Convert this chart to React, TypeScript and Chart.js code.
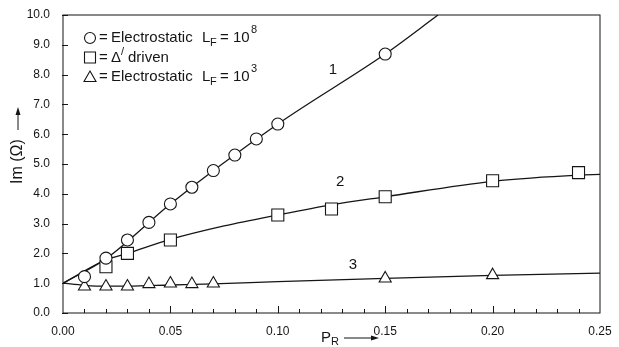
import React, { useEffect, useRef } from 'react';
import { Chart, registerables } from 'chart.js';

Chart.register(...registerables);

// ---- data ----
const circleX = [0.01, 0.02, 0.03, 0.04, 0.05, 0.06, 0.07, 0.08, 0.09, 0.10, 0.15];
const circleY = [1.22, 1.84, 2.45, 3.04, 3.66, 4.22, 4.78, 5.30, 5.84, 6.34, 8.69];
const squareX = [0.02, 0.03, 0.05, 0.10, 0.125, 0.15, 0.20, 0.24];
const squareY = [1.55, 2.0, 2.45, 3.29, 3.49, 3.90, 4.44, 4.71];
const triangleX = [0.01, 0.02, 0.03, 0.04, 0.05, 0.06, 0.07, 0.15, 0.20];
const triangleY = [0.89, 0.89, 0.89, 0.97, 0.99, 0.97, 0.99, 1.16, 1.27];

const curve1X = [0, 0.02, 0.05, 0.10, 0.15, 0.1746];
const curve1Y = [1.0, 1.82, 3.66, 6.34, 8.69, 10.0];
const curve2X = [0, 0.02, 0.03, 0.05, 0.075, 0.10, 0.125, 0.15, 0.20, 0.24, 0.25];
const curve2Y = [1.0, 1.78, 2.0, 2.47, 2.92, 3.29, 3.63, 3.90, 4.42, 4.63, 4.65];
const curve3X = [0, 0.01, 0.02, 0.03, 0.05, 0.07, 0.10, 0.15, 0.20, 0.25];
const curve3Y = [1.0, 0.93, 0.9, 0.9, 0.94, 0.98, 1.05, 1.16, 1.26, 1.34];

const curveLabels = ['1', '2', '3'];
const curveLabelX = [0.1257, 0.129, 0.135];
const curveLabelY = [8.15, 4.4, 1.61];

const xMin = 0, xMax = 0.25, xStep = 0.05, xMinorStep = 0.01;
const yMin = 0, yMax = 10, yStep = 1;

const legendRows = [
  { symbol: 'circle', text: 'Electrostatic', exp: '8' },
  { symbol: 'square', text: 'Δ', exp: null },
  { symbol: 'triangle', text: 'Electrostatic', exp: '3' },
];

const INK = '#151515';
const FONT = "'Liberation Sans', Arial, sans-serif";

const toPts = (xs: number[], ys: number[]) => xs.map((x, i) => ({ x, y: ys[i] }));

function drawSymbol(ctx: CanvasRenderingContext2D, kind: string, x: number, y: number) {
  ctx.beginPath();
  if (kind === 'circle') {
    ctx.arc(x, y, 5.5, 0, Math.PI * 2);
  } else if (kind === 'square') {
    ctx.rect(x - 5.5, y - 5.5, 11, 11);
  } else {
    ctx.moveTo(x, y - 6);
    ctx.lineTo(x + 6, y + 4.5);
    ctx.lineTo(x - 6, y + 4.5);
    ctx.closePath();
  }
  ctx.fillStyle = '#fff';
  ctx.fill();
  ctx.stroke();
}

function arrow(ctx: CanvasRenderingContext2D, x1: number, y: number, x2: number) {
  ctx.beginPath();
  ctx.moveTo(x1, y);
  ctx.lineTo(x2 - 6, y);
  ctx.stroke();
  ctx.beginPath();
  ctx.moveTo(x2, y);
  ctx.lineTo(x2 - 8, y - 2.5);
  ctx.lineTo(x2 - 8, y + 2.5);
  ctx.closePath();
  ctx.fill();
}

const decor = {
  id: 'decor',
  afterDraw(chart: any) {
    const { ctx, chartArea: a, scales } = chart;
    const xs = scales.x;
    const ys = scales.y;
    ctx.save();
    ctx.strokeStyle = INK;
    ctx.fillStyle = INK;
    ctx.lineWidth = 1;
    // frame
    ctx.strokeRect(a.left, a.top, a.right - a.left, a.bottom - a.top);
    // y ticks (inward)
    ys.ticks.forEach((t: any) => {
      const p = Math.round(ys.getPixelForValue(t.value)) + 0.5;
      ctx.beginPath();
      ctx.moveTo(a.left - 1, p);
      ctx.lineTo(a.left + 5, p);
      ctx.stroke();
    });
    // x ticks (inward), minor every 0.01
    const n = Math.round((xMax - xMin) / xMinorStep);
    for (let i = 1; i < n; i++) {
      const v = xMin + i * xMinorStep;
      const p = Math.round(xs.getPixelForValue(v)) + 0.5;
      const major = i % Math.round(xStep / xMinorStep) === 0;
      ctx.beginPath();
      ctx.moveTo(p, a.bottom);
      ctx.lineTo(p, a.bottom - (major ? 7 : 4));
      ctx.stroke();
    }

    // legend
    ctx.lineWidth = 1.1;
    ctx.textBaseline = 'middle';
    ctx.textAlign = 'left';
    legendRows.forEach((r, i) => {
      const cy = a.top + 23 + i * 19.5;
      const sx = a.left + 27;
      ctx.strokeStyle = INK;
      drawSymbol(ctx, r.symbol, sx, cy);
      ctx.fillStyle = INK;
      ctx.font = `15px ${FONT}`;
      ctx.fillText('=', a.left + 36, cy);
      if (r.symbol === 'square') {
        ctx.fillText('Δ', a.left + 48, cy);
        ctx.font = `11px ${FONT}`;
        ctx.fillText('/', a.left + 58, cy - 6);
        ctx.font = `15px ${FONT}`;
        ctx.fillText('driven', a.left + 65, cy);
      } else {
        ctx.fillText(r.text, a.left + 48, cy);
        ctx.fillText('L', a.left + 139, cy);
        ctx.font = `11px ${FONT}`;
        ctx.fillText('F', a.left + 147, cy + 5);
        ctx.font = `15px ${FONT}`;
        ctx.fillText('=', a.left + 157, cy);
        ctx.fillText('10', a.left + 170, cy);
        ctx.font = `11px ${FONT}`;
        ctx.fillText(r.exp as string, a.left + 188, cy - 8);
      }
    });

    // curve labels
    ctx.font = `15px ${FONT}`;
    ctx.textAlign = 'center';
    curveLabels.forEach((t, i) => {
      ctx.fillText(t, xs.getPixelForValue(curveLabelX[i]), ys.getPixelForValue(curveLabelY[i]));
    });

    // x title: P_R ->
    ctx.textAlign = 'left';
    ctx.font = `15px ${FONT}`;
    ctx.fillText('P', 321, 338);
    ctx.font = `11px ${FONT}`;
    ctx.fillText('R', 331, 342);
    ctx.lineWidth = 1;
    arrow(ctx, 344, 338, 379);

    // y title: Im (Ω) -> (rotated)
    ctx.save();
    ctx.translate(18, 184);
    ctx.rotate(-Math.PI / 2);
    ctx.font = `16px ${FONT}`;
    ctx.textAlign = 'left';
    ctx.fillText('Im (Ω)', 0, 0);
    arrow(ctx, 54, 0, 77);
    ctx.restore();

    ctx.restore();
  },
};

export default function App() {
  const ref = useRef<HTMLCanvasElement | null>(null);

  useEffect(() => {
    if (!ref.current) return;
    Chart.defaults.font.family = FONT;
    Chart.defaults.color = INK;
    const marker = {
      showLine: false,
      borderColor: INK,
      backgroundColor: '#fff',
      pointBackgroundColor: '#fff',
      pointBorderColor: INK,
      pointBorderWidth: 1.1,
    };
    const curve = {
      showLine: true,
      borderColor: INK,
      borderWidth: 1.3,
      pointRadius: 0,
      pointHoverRadius: 0,
      cubicInterpolationMode: 'monotone' as const,
      fill: false,
    };
    const chart = new Chart(ref.current, {
      type: 'scatter',
      data: {
        datasets: [
          { label: 'Electrostatic LF=10^8', data: toPts(circleX, circleY), pointStyle: 'circle', pointRadius: 6, ...marker },
          { label: "Δ' driven", data: toPts(squareX, squareY), pointStyle: 'rect', pointRadius: 8.5, ...marker },
          { label: 'Electrostatic LF=10^3', data: toPts(triangleX, triangleY), pointStyle: 'triangle', pointRadius: 7, ...marker },
          { label: 'curve 1', data: toPts(curve1X, curve1Y), ...curve },
          { label: 'curve 2', data: toPts(curve2X, curve2Y), ...curve },
          { label: 'curve 3', data: toPts(curve3X, curve3Y), ...curve },
        ],
      },
      options: {
        responsive: false,
        animation: false,
        layout: { padding: { top: 15, right: 19, left: 0, bottom: 0 } },
        plugins: { legend: { display: false }, tooltip: { enabled: false } },
        scales: {
          x: {
            type: 'linear',
            min: xMin,
            max: xMax,
            grid: { display: false },
            border: { display: false },
            ticks: {
              stepSize: xStep,
              padding: 3,
              color: INK,
              font: { size: 12 },
              maxRotation: 0,
              callback: (v: any) => Number(v).toFixed(2),
            },
            afterFit: (s: any) => { s.height = 34; },
          },
          y: {
            type: 'linear',
            min: yMin,
            max: yMax,
            grid: { display: false },
            border: { display: false },
            ticks: {
              stepSize: yStep,
              padding: 5,
              color: INK,
              font: { size: 12 },
              callback: (v: any) => Number(v).toFixed(1),
            },
            afterFit: (s: any) => { s.width = 63; },
          },
        },
      },
      plugins: [decor],
    });
    return () => chart.destroy();
  }, []);

  return (
    <div style={{ position: 'fixed', left: 0, top: 0, width: 619, height: 347, background: '#fff' }}>
      <canvas ref={ref} width={619} height={347} style={{ width: 619, height: 347, display: 'block' }} />
    </div>
  );
}
